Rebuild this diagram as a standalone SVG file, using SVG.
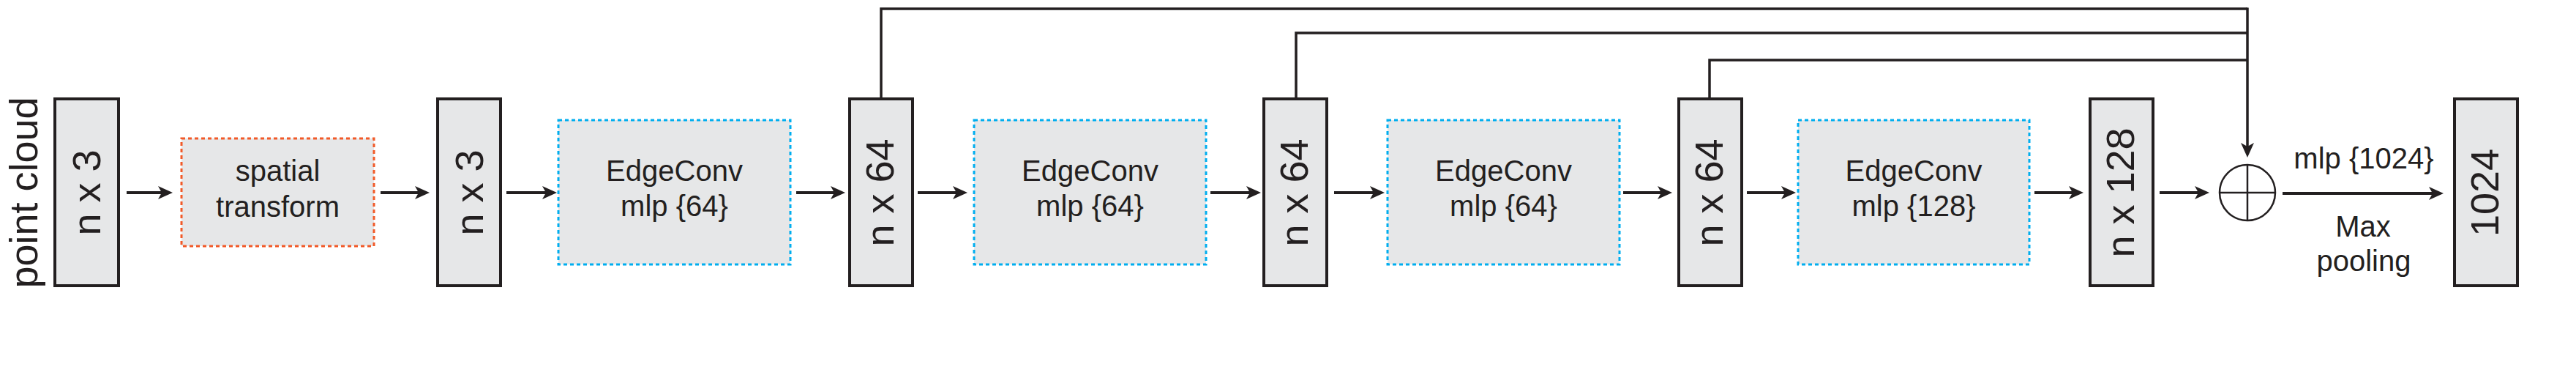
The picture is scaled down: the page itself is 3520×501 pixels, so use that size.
<svg xmlns="http://www.w3.org/2000/svg" width="3520" height="501" viewBox="0 0 3520 501">
<style>
.t{font-family:"Liberation Sans",Arial,Helvetica,sans-serif;fill:#231f20}
.big{font-size:54px}
.mid{font-size:40px}
.blk{fill:#e6e7e8;stroke:#231f20;stroke-width:4}
.red{fill:#e6e7e8;stroke:#f15a29;stroke-width:3;stroke-dasharray:5 4}
.blue{fill:#e6e7e8;stroke:#00aeef;stroke-width:3;stroke-dasharray:5 4}
.ar{stroke:#231f20;stroke-width:4;fill:none;marker-end:url(#ah)}
.sk{stroke:#231f20;stroke-width:3.5;fill:none}
.thin{stroke:#231f20;stroke-width:2.5;fill:none}
</style>
<defs>
<marker id="ah" markerUnits="userSpaceOnUse" viewBox="-10 -10 30 20" markerWidth="30" markerHeight="20" refX="0" refY="0" orient="auto">
<path d="M14,0 L-6,-9 L-1,0 L-6,9 Z" fill="#231f20"/>
</marker>
</defs>
<g id="label-pointcloud"><text class="t big" text-anchor="middle" transform="translate(51,263) rotate(-90)">point cloud</text></g>
<g id="box1"><rect class="blk" x="75" y="135" width="87" height="255"/><text class="t big" text-anchor="middle" transform="translate(137,263) rotate(-90)">n x 3</text></g>
<g id="spatial"><rect class="red" x="248" y="189" width="263" height="147"/><text class="t mid" text-anchor="middle" x="379.5" y="247">spatial</text><text class="t mid" text-anchor="middle" x="379.5" y="296">transform</text></g>
<g id="box2"><rect class="blk" x="598" y="135" width="86" height="255"/><text class="t big" text-anchor="middle" transform="translate(660,263) rotate(-90)">n x 3</text></g>
<g id="edge1"><rect class="blue" x="763" y="164" width="317" height="197"/><text class="t mid" text-anchor="middle" x="921.5" y="247">EdgeConv</text><text class="t mid" text-anchor="middle" x="921.5" y="295">mlp {64}</text></g>
<g id="box3"><rect class="blk" x="1161" y="135" width="86" height="255"/><text class="t big" text-anchor="middle" transform="translate(1221,263) rotate(-90)">n x 64</text></g>
<g id="edge2"><rect class="blue" x="1331" y="164" width="317" height="197"/><text class="t mid" text-anchor="middle" x="1489.5" y="247">EdgeConv</text><text class="t mid" text-anchor="middle" x="1489.5" y="295">mlp {64}</text></g>
<g id="box4"><rect class="blk" x="1727" y="135" width="86" height="255"/><text class="t big" text-anchor="middle" transform="translate(1787,263) rotate(-90)">n x 64</text></g>
<g id="edge3"><rect class="blue" x="1896" y="164" width="317" height="197"/><text class="t mid" text-anchor="middle" x="2054.5" y="247">EdgeConv</text><text class="t mid" text-anchor="middle" x="2054.5" y="295">mlp {64}</text></g>
<g id="box5"><rect class="blk" x="2294" y="135" width="86" height="255"/><text class="t big" text-anchor="middle" transform="translate(2354,263) rotate(-90)">n x 64</text></g>
<g id="edge4"><rect class="blue" x="2457" y="164" width="316" height="197"/><text class="t mid" text-anchor="middle" x="2615" y="247">EdgeConv</text><text class="t mid" text-anchor="middle" x="2615" y="295">mlp {128}</text></g>
<g id="box6"><rect class="blk" x="2856" y="135" width="86" height="255"/><text class="t big" text-anchor="middle" transform="translate(2916,263) rotate(-90)">n x 128</text></g>
<g id="concat"><circle class="thin" cx="3071" cy="263" r="38"/><line class="thin" x1="3071" y1="225" x2="3071" y2="301"/><line class="thin" x1="3033" y1="263" x2="3109" y2="263"/></g>
<g id="box7"><rect class="blk" x="3354" y="135" width="86" height="255"/><text class="t big" text-anchor="middle" transform="translate(3414,263) rotate(-90)">1024</text></g>
<g id="labels-final"><text class="t mid" text-anchor="middle" x="3230" y="230">mlp {1024}</text><text class="t mid" text-anchor="middle" x="3229" y="323">Max</text><text class="t mid" text-anchor="middle" x="3230" y="370">pooling</text></g>
<g id="connectors">
<line class="ar" x1="173" y1="263" x2="222" y2="263"/>
<line class="ar" x1="520" y1="263" x2="573" y2="263"/>
<line class="ar" x1="692" y1="263" x2="747" y2="263"/>
<line class="ar" x1="1088" y1="263" x2="1141" y2="263"/>
<line class="ar" x1="1254" y1="263" x2="1308" y2="263"/>
<line class="ar" x1="1654" y1="263" x2="1709" y2="263"/>
<line class="ar" x1="1823" y1="263" x2="1878" y2="263"/>
<line class="ar" x1="2218" y1="263" x2="2271" y2="263"/>
<line class="ar" x1="2387" y1="263" x2="2440" y2="263"/>
<line class="ar" x1="2780" y1="263" x2="2833" y2="263"/>
<line class="ar" x1="2951" y1="263" x2="3005" y2="263"/>
<line class="ar" x1="3119" y1="264" x2="3325" y2="264"/>
<polyline class="sk" points="1204,135 1204,12 3071,12"/>
<polyline class="sk" points="1771,135 1771,45 3071,45"/>
<polyline class="sk" points="2336,135 2336,82 3071,82"/>
<line class="ar" x1="3071" y1="10.5" x2="3071" y2="201" style="stroke-width:3.5"/>
</g>
</svg>
